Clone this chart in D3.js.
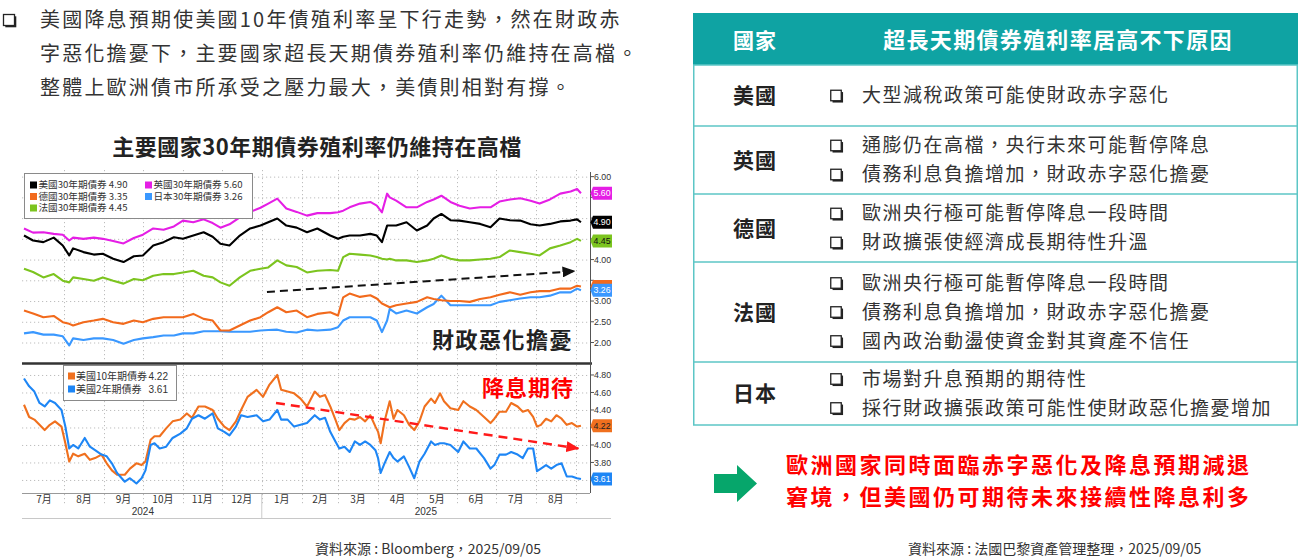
<!DOCTYPE html>
<html>
<head>
<meta charset="utf-8">
<script src="https://cdn.jsdelivr.net/npm/d3@7/dist/d3.min.js"></script>
<style>
  body { margin: 0; background: #fff; }
  svg { display: block; font-family: "Noto Sans CJK TC", "Noto Sans", sans-serif; }
</style>
</head>
<body>
<svg id="c" width="1300" height="560"></svg>
<script>
// ---- 30y yields (top panel) ----
const dates30 = [
  "2024-07-01","2024-07-08","2024-07-16","2024-07-24","2024-07-31",
  "2024-08-05","2024-08-08","2024-08-16","2024-08-24","2024-08-31",
  "2024-09-08","2024-09-16","2024-09-24",
  "2024-10-01","2024-10-09","2024-10-17","2024-10-25",
  "2024-11-01","2024-11-09","2024-11-17","2024-11-24","2024-11-30",
  "2024-12-07","2024-12-15","2024-12-23","2024-12-31",
  "2025-01-06","2025-01-13","2025-01-20","2025-01-28",
  "2025-02-05","2025-02-13","2025-02-23",
  "2025-03-01","2025-03-05","2025-03-10","2025-03-18","2025-03-26","2025-03-31",
  "2025-04-04","2025-04-08","2025-04-10","2025-04-15","2025-04-23",
  "2025-05-01","2025-05-09","2025-05-14","2025-05-20","2025-05-27",
  "2025-06-03","2025-06-11","2025-06-19","2025-06-27",
  "2025-07-04","2025-07-12","2025-07-20","2025-07-28",
  "2025-08-04","2025-08-12","2025-08-20","2025-08-28",
  "2025-09-02","2025-09-05"
];
const us30 = [
  4.58, 4.46, 4.42, 4.53, 4.34,
  4.10, 4.27, 4.18, 4.12, 4.14,
  4.02, 3.94, 4.08,
  4.10, 4.34, 4.42, 4.54,
  4.50, 4.58, 4.66, 4.55, 4.38,
  4.34, 4.58, 4.75, 4.82,
  4.90, 4.99, 4.82, 4.77,
  4.66, 4.75, 4.58,
  4.50, 4.55, 4.58, 4.58, 4.62, 4.58,
  4.42, 4.82, 4.82, 4.82, 4.90,
  4.70, 4.82, 4.99, 5.10, 4.95,
  4.94, 4.90, 4.86, 4.78,
  4.99, 4.95, 4.94, 4.85,
  4.82, 4.86, 4.92, 4.94,
  4.97, 4.90
];
const uk30 = [
  4.75, 4.65, 4.66, 4.62, 4.60,
  4.46, 4.53, 4.50, 4.53, 4.50,
  4.45, 4.39, 4.52,
  4.60, 4.75, 4.72, 4.80,
  4.94, 4.90, 4.97, 4.88, 4.77,
  4.85, 5.02, 5.15, 5.25,
  5.35, 5.47, 5.23, 5.15,
  5.06, 5.12, 5.12,
  5.14, 5.18, 5.26, 5.35, 5.39, 5.30,
  5.14, 5.59, 5.50, 5.42, 5.26,
  5.26, 5.39, 5.45, 5.54, 5.39,
  5.30, 5.23, 5.26, 5.26,
  5.40, 5.45, 5.48, 5.42,
  5.35, 5.45, 5.59, 5.64,
  5.70, 5.60
];
const de30 = [
  2.77, 2.70, 2.61, 2.64, 2.49,
  2.45, 2.41, 2.49, 2.53, 2.57,
  2.49, 2.45, 2.53,
  2.49, 2.57, 2.61, 2.61,
  2.61, 2.69, 2.57, 2.53, 2.29,
  2.29, 2.41, 2.53, 2.61,
  2.73, 2.85, 2.73, 2.77,
  2.61, 2.69, 2.73,
  2.65, 3.09, 3.18, 3.10, 3.14, 3.06,
  2.94, 2.88, 2.85, 2.90, 2.94,
  2.98, 3.09, 3.05, 3.02, 3.00,
  3.00, 2.98, 3.05, 3.09,
  3.15, 3.21, 3.15, 3.21,
  3.24, 3.24, 3.30, 3.30,
  3.37, 3.35
];
const jp30 = [
  2.22, 2.25, 2.19, 2.19, 2.15,
  1.93, 2.10, 2.06, 2.10, 2.10,
  2.06, 1.97, 2.06,
  2.10, 2.13, 2.17, 2.17,
  2.22, 2.22, 2.27, 2.27, 2.27,
  2.26, 2.26, 2.26, 2.29,
  2.30, 2.31, 2.26, 2.24,
  2.31, 2.29, 2.31,
  2.37, 2.53, 2.61, 2.61, 2.61, 2.53,
  2.25, 2.53, 2.81, 2.70, 2.77,
  2.70, 2.85, 2.93, 3.13, 2.90,
  2.90, 2.90, 2.90, 2.90,
  2.98, 3.02, 3.06, 3.09,
  3.09, 3.13, 3.21, 3.21,
  3.30, 3.26
];
const fr30 = [
  3.78, 3.70, 3.57, 3.65, 3.49,
  3.45, 3.57, 3.53, 3.49, 3.57,
  3.49, 3.42, 3.53,
  3.50, 3.61, 3.65, 3.65,
  3.69, 3.73, 3.61, 3.57, 3.45,
  3.37, 3.57, 3.73, 3.78,
  3.81, 3.98, 3.86, 3.82,
  3.69, 3.73, 3.75,
  3.73, 4.06, 4.14, 4.12, 4.10, 4.06,
  4.02, 4.00, 4.02, 3.98, 3.98,
  3.94, 3.98, 4.02, 4.10, 4.02,
  3.98, 3.98, 4.00, 4.02,
  4.06, 4.22, 4.18, 4.14,
  4.10, 4.27, 4.34, 4.42,
  4.50, 4.45
];

// ---- US 10y / 2y (bottom panel) ----
const dates10 = [
  "2024-07-01","2024-07-05","2024-07-09","2024-07-13","2024-07-17","2024-07-21","2024-07-25","2024-07-30",
  "2024-08-02","2024-08-05","2024-08-08","2024-08-12","2024-08-17","2024-08-21","2024-08-25","2024-08-30",
  "2024-09-03","2024-09-07","2024-09-11","2024-09-17","2024-09-21","2024-09-26","2024-09-30",
  "2024-10-03","2024-10-07","2024-10-10","2024-10-14","2024-10-19","2024-10-24","2024-10-30",
  "2024-11-04","2024-11-08","2024-11-13","2024-11-18","2024-11-24","2024-11-28",
  "2024-12-03","2024-12-07","2024-12-12","2024-12-16","2024-12-21","2024-12-28",
  "2025-01-02","2025-01-07","2025-01-13","2025-01-16","2025-01-21","2025-01-26","2025-01-31",
  "2025-02-05","2025-02-11","2025-02-15","2025-02-19","2025-02-23","2025-02-27",
  "2025-03-02","2025-03-06","2025-03-10","2025-03-14","2025-03-18","2025-03-22","2025-03-26","2025-03-30",
  "2025-04-01","2025-04-03","2025-04-06","2025-04-10","2025-04-13","2025-04-16","2025-04-21","2025-04-25","2025-04-29",
  "2025-05-03","2025-05-07","2025-05-12","2025-05-15","2025-05-19","2025-05-22","2025-05-27",
  "2025-06-02","2025-06-06","2025-06-11","2025-06-16","2025-06-22","2025-06-27","2025-06-30",
  "2025-07-04","2025-07-09","2025-07-13","2025-07-18","2025-07-22","2025-07-26","2025-07-30",
  "2025-08-02","2025-08-05","2025-08-09","2025-08-13","2025-08-17","2025-08-21","2025-08-25","2025-08-29",
  "2025-09-02","2025-09-05"
];
const us10 = [
  4.46, 4.32, 4.29, 4.23, 4.17, 4.23, 4.27, 4.21,
  4.02, 3.81, 3.90, 3.87, 3.90, 3.83, 3.85, 3.89,
  3.79, 3.71, 3.66, 3.66, 3.73, 3.79, 3.77,
  3.81, 4.06, 4.10, 4.10, 4.19, 4.27, 4.29,
  4.36, 4.31, 4.44, 4.44, 4.40, 4.30,
  4.21, 4.17, 4.27, 4.40, 4.55, 4.63,
  4.55, 4.69, 4.80, 4.63, 4.61, 4.59, 4.53,
  4.44, 4.61, 4.55, 4.57, 4.44, 4.29,
  4.17, 4.25, 4.30, 4.29, 4.32, 4.27, 4.34, 4.21,
  4.15, 4.02, 4.27, 4.50, 4.30, 4.40, 4.34, 4.23, 4.17,
  4.27, 4.44, 4.53, 4.48, 4.59, 4.50, 4.42,
  4.40, 4.50, 4.44, 4.40, 4.32, 4.25, 4.30,
  4.38, 4.38, 4.48, 4.44, 4.38, 4.40, 4.32,
  4.21, 4.23, 4.30, 4.27, 4.34, 4.30, 4.23, 4.25,
  4.21, 4.22
];
const us2 = [
  4.76, 4.67, 4.61, 4.48, 4.44, 4.51, 4.48, 4.40,
  4.21, 3.96, 4.00, 3.96, 4.08, 3.98, 3.94, 3.89,
  3.87, 3.79, 3.68, 3.58, 3.62, 3.56, 3.62,
  3.71, 4.00, 4.02, 3.96, 3.98, 4.08, 4.13,
  4.19, 4.30, 4.34, 4.30, 4.36, 4.19,
  4.15, 4.11, 4.21, 4.34, 4.32, 4.34,
  4.27, 4.29, 4.40, 4.29, 4.29, 4.21, 4.23,
  4.25, 4.34, 4.29, 4.31, 4.15, 4.04,
  3.96, 3.98, 3.92, 4.04, 4.00, 4.04, 4.00, 3.94,
  3.85, 3.68, 3.79, 3.92, 3.85, 3.81, 3.87, 3.75, 3.62,
  3.81, 3.90, 4.04, 4.00, 4.02, 4.02, 4.00,
  3.92, 4.04, 3.96, 3.96, 3.85, 3.73, 3.77,
  3.89, 3.89, 3.92, 3.89, 3.85, 3.96, 3.96,
  3.70, 3.73, 3.77, 3.73, 3.77, 3.79, 3.64, 3.64,
  3.62, 3.61
];

// ---- labels ----
const ticksTop = [2.00, 2.50, 3.00, 3.50, 4.00, 4.50, 5.00, 5.50, 6.00];
const ticksBottom = [3.60, 3.80, 4.00, 4.20, 4.40, 4.60, 4.80];
const monthLabels = ["7月","8月","9月","10月","11月","12月","1月","2月","3月","4月","5月","6月","7月","8月"];
const yearLabels = ["2024", "2025"];
const names30 = ["美國30年期債券", "英國30年期債券", "德國30年期債券", "日本30年期債券", "法國30年期債券"];
const names10 = ["美國10年期債券", "美國2年期債券"];

const introLines = [
  "美國降息預期使美國10年債殖利率呈下行走勢，然在財政赤",
  "字惡化擔憂下，主要國家超長天期債券殖利率仍維持在高檔。",
  "整體上歐洲債市所承受之壓力最大，美債則相對有撐。"
];
const chartTitle = "主要國家30年期債券殖利率仍維持在高檔";
const tableHead = ["國家", "超長天期債券殖利率居高不下原因"];
const countries = ["美國", "英國", "德國", "法國", "日本"];
const reasons = [
  ["大型減稅政策可能使財政赤字惡化"],
  ["通膨仍在高檔，央行未來可能暫停降息", "債務利息負擔增加，財政赤字惡化擔憂"],
  ["歐洲央行極可能暫停降息一段時間", "財政擴張使經濟成長期待性升溫"],
  ["歐洲央行極可能暫停降息一段時間", "債務利息負擔增加，財政赤字惡化擔憂", "國內政治動盪使資金對其資產不信任"],
  ["市場對升息預期的期待性", "採行財政擴張政策可能性使財政惡化擔憂增加"]
];
const conclusion = ["歐洲國家同時面臨赤字惡化及降息預期減退", "窘境，但美國仍可期待未來接續性降息利多"];
const sourceLeft = "資料來源 : Bloomberg，2025/09/05";
const sourceRight = "資料來源 : 法國巴黎資產管理整理，2025/09/05";

// ---- drawing ----
const svg = d3.select("#c");
const defs = svg.append("defs");
const parse = d3.timeParse("%Y-%m-%d");
const NUM = '"Liberation Sans", Arial, sans-serif';

defs.append("clipPath").attr("id", "chartClip")
  .append("rect").attr("x", 10).attr("y", 160).attr("width", 602).attr("height", 370);

function marker(id, color) {
  defs.append("marker").attr("id", id)
    .attr("markerUnits", "userSpaceOnUse")
    .attr("markerWidth", 13).attr("markerHeight", 11)
    .attr("refX", 12).attr("refY", 5.5).attr("orient", "auto")
    .append("path").attr("d", "M0,0 L13,5.5 L0,11 Z").attr("fill", color);
}
marker("arrBlack", "#111");
marker("arrRed", "#ff1a1a");

function bullet(g, cx, cy, s) {
  g.append("rect").attr("x", cx - s / 2 + 1.8).attr("y", cy - s / 2 + 1.8)
    .attr("width", s).attr("height", s).attr("fill", "#222");
  g.append("rect").attr("x", cx - s / 2).attr("y", cy - s / 2)
    .attr("width", s).attr("height", s)
    .attr("fill", "#fff").attr("stroke", "#222").attr("stroke-width", 1.3);
}

// intro paragraph
const intro = svg.append("g");
bullet(intro, 9, 20, 11);
intro.selectAll("text.intro").data(introLines).join("text")
  .attr("x", 40).attr("y", (d, i) => 27 + i * 34)
  .attr("font-size", 20).attr("letter-spacing", 2.2).attr("fill", "#333")
  .text(d => d);

svg.append("text").attr("x", 317).attr("y", 155).attr("text-anchor", "middle")
  .attr("font-size", 22).attr("font-weight", "bold").attr("letter-spacing", 0.5)
  .attr("fill", "#222").text(chartTitle);

// chart
const chart = svg.append("g").attr("clip-path", "url(#chartClip)");
const x = d3.scaleTime().domain([parse("2024-07-01"), parse("2025-09-12")]).range([24, 590]);
const yTop = d3.scaleLinear().domain([1.53, 6.16]).range([362, 170]);
const yBot = d3.scaleLinear().domain([3.451, 4.914]).range([493, 365]);
const monthStarts = d3.timeMonth.range(parse("2024-08-01"), parse("2025-09-02"));
const gridStyle = s => s.attr("stroke", "#bdbdbd").attr("stroke-width", 1).attr("stroke-dasharray", "1.2,2.8");

// gridlines
[[yTop, ticksTop, 170, 362], [yBot, ticksBottom, 365, 493]].forEach(([y, ticks, top, bot]) => {
  chart.append("g").selectAll("line").data(ticks).join("line")
    .attr("x1", 22).attr("x2", 590)
    .attr("y1", d => y(d) + 0.5).attr("y2", d => y(d) + 0.5)
    .call(gridStyle);
  chart.append("g").selectAll("line").data(monthStarts).join("line")
    .attr("x1", d => Math.round(x(d)) + 0.5).attr("x2", d => Math.round(x(d)) + 0.5)
    .attr("y1", top).attr("y2", bot)
    .call(gridStyle);
});

// 30y lines
const top30 = [
  { vals: jp30, color: "#3a98ff" },
  { vals: de30, color: "#f26a1c" },
  { vals: fr30, color: "#7cc41f" },
  { vals: uk30, color: "#e51ee5" },
  { vals: us30, color: "#000" }
];
const d30 = dates30.map(parse);
const lineTop = d3.line().x((d, i) => x(d30[i])).y(d => yTop(d));
chart.append("g").selectAll("path").data(top30).join("path")
  .attr("d", d => lineTop(d.vals))
  .attr("fill", "none").attr("stroke", d => d.color)
  .attr("stroke-width", 2.1).attr("stroke-linejoin", "round");

// 10y / 2y lines
const d10 = dates10.map(parse);
const lineBot = d3.line().x((d, i) => x(d10[i])).y(d => yBot(d));
const bot10 = [
  { vals: us10, color: "#f0701e" },
  { vals: us2, color: "#1e86f5" }
];
chart.append("g").selectAll("path").data(bot10).join("path")
  .attr("d", d => lineBot(d.vals))
  .attr("fill", "none").attr("stroke", d => d.color)
  .attr("stroke-width", 2.1).attr("stroke-linejoin", "round");

// separator + right axis
chart.append("line").attr("x1", 22).attr("x2", 592).attr("y1", 363.5).attr("y2", 363.5)
  .attr("stroke", "#333").attr("stroke-width", 2.5);
chart.append("line").attr("x1", 590.5).attr("x2", 590.5).attr("y1", 172).attr("y2", 493)
  .attr("stroke", "#555").attr("stroke-width", 1);

// last values get a tag on the axis; tick labels under a tag stay hidden as in the source
const tagsTop = [
  { v: uk30[uk30.length - 1], bg: "#e51ee5", fg: "#fff" },
  { v: us30[us30.length - 1], bg: "#000", fg: "#fff" },
  { v: fr30[fr30.length - 1], bg: "#7cc41f", fg: "#111" },
  { v: de30[de30.length - 1], bg: "#f26a1c", fg: null },
  { v: jp30[jp30.length - 1], bg: "#3a98ff", fg: "#fff" }
];
const tagsBot = [
  { v: us10[us10.length - 1], bg: "#f0701e", fg: "#222" },
  { v: us2[us2.length - 1], bg: "#1e86f5", fg: "#fff" }
];

function rightAxis(y, ticks, tags) {
  const g = chart.append("g").attr("font-family", NUM).attr("font-size", 8.8).attr("fill", "#333");
  g.selectAll("line").data(ticks).join("line")
    .attr("x1", 590).attr("x2", 594).attr("y1", d => y(d)).attr("y2", d => y(d))
    .attr("stroke", "#555");
  const free = ticks.filter(t => tags.every(tg => Math.abs(y(t) - y(tg.v)) > 8));
  g.selectAll("text").data(free).join("text")
    .attr("x", 594).attr("y", d => y(d)).attr("dy", "0.35em")
    .text(d => d.toFixed(2));
}
rightAxis(yTop, ticksTop, tagsTop);
rightAxis(yBot, ticksBottom, tagsBot);

function tag(y, t) {
  const yy = y(t.v);
  chart.append("path")
    .attr("d", `M590.5,${yy} L593,${yy - 6.5} L614,${yy - 6.5} L614,${yy + 6.5} L593,${yy + 6.5} Z`)
    .attr("fill", t.bg);
  if (t.fg) {
    chart.append("text").attr("x", 593.5).attr("y", yy).attr("dy", "0.36em")
      .attr("font-family", NUM).attr("font-size", 8.8).attr("fill", t.fg)
      .text(t.v.toFixed(2));
  }
}
tagsTop.forEach(t => tag(yTop, t));
tagsBot.forEach(t => tag(yBot, t));

// x axis
chart.append("line").attr("x1", 22).attr("x2", 590).attr("y1", 493.5).attr("y2", 493.5)
  .attr("stroke", "#999");
chart.append("g").selectAll("line").data(monthStarts.slice(0, 14)).join("line")
  .attr("x1", d => Math.round(x(d)) + 0.5).attr("x2", d => Math.round(x(d)) + 0.5)
  .attr("y1", 494).attr("y2", 504)
  .call(gridStyle);
const monthSpans = d3.timeMonth.range(parse("2024-07-01"), parse("2025-09-01"));
chart.append("g").selectAll("text").data(monthLabels).join("text")
  .attr("x", (d, i) => (x(monthSpans[i]) + x(d3.timeMonth.offset(monthSpans[i], 1))) / 2)
  .attr("y", 503).attr("text-anchor", "middle")
  .attr("font-size", 10).attr("fill", "#333")
  .text(d => d);
const yearStart = [parse("2024-07-01"), parse("2025-01-01")];
const yearEnd = [parse("2025-01-01"), parse("2025-09-12")];
chart.append("g").selectAll("text").data(yearLabels).join("text")
  .attr("x", (d, i) => (x(yearStart[i]) + x(yearEnd[i])) / 2)
  .attr("y", 515).attr("text-anchor", "middle")
  .attr("font-family", NUM).attr("font-size", 10).attr("fill", "#333")
  .text(d => d);
chart.append("line").attr("x1", x(yearStart[1])).attr("x2", x(yearStart[1]))
  .attr("y1", 494).attr("y2", 518).attr("stroke", "#ccc");
chart.append("line").attr("x1", 22).attr("x2", 611).attr("y1", 518.5).attr("y2", 518.5)
  .attr("stroke", "#c8c8c8");

// legends
function legendBox(x0, y0, w, h) {
  chart.append("rect").attr("x", x0).attr("y", y0).attr("width", w).attr("height", h)
    .attr("fill", "#fff").attr("stroke", "#8a8a8a").attr("stroke-width", 1);
}
legendBox(24.5, 173.5, 228, 45);
const leg30 = [
  { i: 0, v: us30, color: "#000", col: 0, row: 0 },
  { i: 1, v: uk30, color: "#e51ee5", col: 1, row: 0 },
  { i: 2, v: de30, color: "#f26a1c", col: 0, row: 1 },
  { i: 3, v: jp30, color: "#3a98ff", col: 1, row: 1 },
  { i: 4, v: fr30, color: "#7cc41f", col: 0, row: 2 }
];
leg30.forEach(d => {
  const lx = d.col ? 145 : 30, ly = 185 + d.row * 11.5;
  chart.append("rect").attr("x", lx).attr("y", ly - 3.5).attr("width", 7).attr("height", 7).attr("fill", d.color);
  chart.append("text").attr("x", lx + 8.5).attr("y", ly).attr("dy", "0.36em")
    .attr("font-size", 9.6).attr("fill", "#333")
    .text(names30[d.i] + " " + d.v[d.v.length - 1].toFixed(2));
});
legendBox(63.5, 365.5, 113, 35);
[[us10, "#f0701e"], [us2, "#1e86f5"]].forEach(([v, c], i) => {
  const ly = 376 + i * 13;
  chart.append("rect").attr("x", 68).attr("y", ly - 3.5).attr("width", 7).attr("height", 7).attr("fill", c);
  chart.append("text").attr("x", 76).attr("y", ly).attr("dy", "0.36em")
    .attr("font-size", 10).attr("fill", "#333").text(names10[i]);
  chart.append("text").attr("x", 168).attr("y", ly).attr("dy", "0.36em").attr("text-anchor", "end")
    .attr("font-family", NUM).attr("font-size", 10).attr("fill", "#333")
    .text(v[v.length - 1].toFixed(2));
});

// trend arrows (anchored in data space)
chart.append("line")
  .attr("x1", x(parse("2025-01-05"))).attr("y1", yTop(3.22))
  .attr("x2", x(parse("2025-08-31"))).attr("y2", yTop(3.72))
  .attr("stroke", "#111").attr("stroke-width", 2).attr("stroke-dasharray", "8,5")
  .attr("marker-end", "url(#arrBlack)");
chart.append("line")
  .attr("x1", x(parse("2025-01-12"))).attr("y1", yBot(4.48))
  .attr("x2", x(parse("2025-09-03"))).attr("y2", yBot(3.96))
  .attr("stroke", "#ff1a1a").attr("stroke-width", 2.4).attr("stroke-dasharray", "9,6")
  .attr("marker-end", "url(#arrRed)");

chart.append("text").attr("x", 573).attr("y", 348).attr("text-anchor", "end")
  .attr("font-size", 22).attr("font-weight", "bold").attr("letter-spacing", 1.5)
  .attr("fill", "#222").text("財政惡化擔憂");
chart.append("text").attr("x", 574).attr("y", 396).attr("text-anchor", "end")
  .attr("font-size", 22).attr("font-weight", "bold").attr("letter-spacing", 1)
  .attr("fill", "#ff0000").text("降息期待");

svg.append("text").attr("x", 315).attr("y", 554)
  .attr("font-size", 14).attr("fill", "#333").text(sourceLeft);

// table
const T = { x: 693, w: 605, headTop: 13, headBot: 65 };
const rowEdges = [65, 126, 194, 262, 362, 425];
const teal = "#0fa3a3", tealLine = "#5cc6c6";
const table = svg.append("g");
table.append("rect").attr("x", T.x).attr("y", T.headTop).attr("width", T.w)
  .attr("height", T.headBot - T.headTop).attr("fill", teal);
table.append("text").attr("x", 755).attr("y", 48).attr("text-anchor", "middle")
  .attr("font-size", 21).attr("font-weight", "bold").attr("fill", "#fff").attr("letter-spacing", 1)
  .text(tableHead[0]);
table.append("text").attr("x", 1058).attr("y", 48).attr("text-anchor", "middle")
  .attr("font-size", 22).attr("font-weight", "bold").attr("fill", "#fff").attr("letter-spacing", 1.3)
  .text(tableHead[1]);
table.append("rect").attr("x", T.x + 0.75).attr("y", 65).attr("width", T.w - 1.5)
  .attr("height", rowEdges[rowEdges.length - 1] - 65)
  .attr("fill", "none").attr("stroke", tealLine).attr("stroke-width", 1.5);
table.selectAll("line.row").data(rowEdges.slice(1, -1)).join("line")
  .attr("x1", T.x).attr("x2", T.x + T.w).attr("y1", d => d).attr("y2", d => d)
  .attr("stroke", tealLine).attr("stroke-width", 1.5);

countries.forEach((c, i) => {
  const mid = (rowEdges[i] + rowEdges[i + 1]) / 2;
  table.append("text").attr("x", 755).attr("y", mid).attr("dy", "0.36em").attr("text-anchor", "middle")
    .attr("font-size", 21).attr("font-weight", "bold").attr("fill", "#222").attr("letter-spacing", 1)
    .text(c);
  const n = reasons[i].length;
  reasons[i].forEach((r, j) => {
    const cy = mid + (j - (n - 1) / 2) * 29;
    bullet(table, 836, cy, 10.5);
    table.append("text").attr("x", 862).attr("y", cy).attr("dy", "0.36em")
      .attr("font-size", 19).attr("letter-spacing", 1.5).attr("fill", "#333")
      .text(r);
  });
});

// conclusion
svg.append("path")
  .attr("d", "M714,474 L737,474 L737,465 L757,483.5 L737,502 L737,493 L714,493 Z")
  .attr("fill", "#06a66b");
svg.selectAll("text.concl").data(conclusion).join("text")
  .attr("x", 786).attr("y", (d, i) => 465 + i * 32).attr("dy", "0.36em")
  .attr("font-size", 22).attr("font-weight", "bold").attr("letter-spacing", 2.5)
  .attr("fill", "#ff0000").text(d => d);
svg.append("text").attr("x", 908).attr("y", 554)
  .attr("font-size", 14).attr("fill", "#333").text(sourceRight);
</script>
</body>
</html>
